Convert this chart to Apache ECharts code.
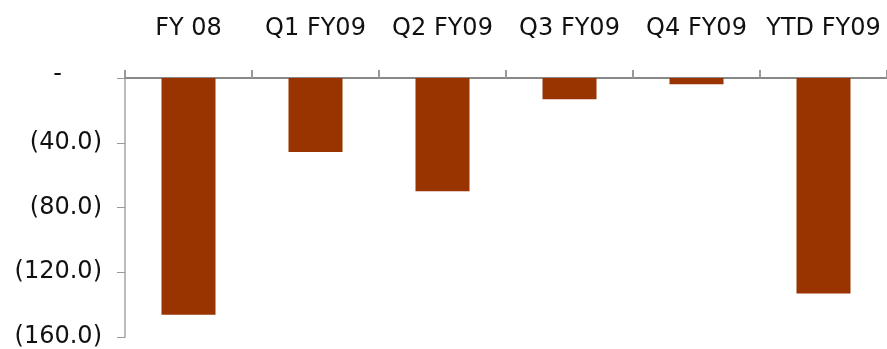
<!DOCTYPE html>
<html>
<head>
<meta charset="utf-8">
<script src="https://cdn.jsdelivr.net/npm/echarts@6/dist/echarts.min.js"></script>
<style>
  html, body { margin: 0; padding: 0; background: #fff; }
  #main { width: 887px; height: 349px; }
</style>
</head>
<body>
<div id="main"></div>
<script>
var categories = ['FY 08', 'Q1 FY09', 'Q2 FY09', 'Q3 FY09', 'Q4 FY09', 'YTD FY09'];
var values = [-146.2, -45.7, -70.0, -13.2, -3.8, -133.2];
var yTicks = [0, -40, -80, -120, -160];

var font = 'DejaVu Sans, sans-serif';
var myChart = echarts.init(document.getElementById('main'));

var option = {
  animation: false,
  grid: { left: 125, top: 78, width: 767, height: 261 },
  xAxis: {
    type: 'category',
    position: 'top',
    data: categories,
    axisLine: { show: true, lineStyle: { color: '#888', width: 2 } },
    axisTick: { show: true, inside: false, interval: 0, length: 8, lineStyle: { color: '#999', width: 2 } },
    axisLabel: { interval: 0, margin: 37, color: '#111', fontSize: 24, fontFamily: font }
  },
  yAxis: {
    type: 'value',
    min: yTicks[yTicks.length - 1],
    max: yTicks[0],
    interval: 40,
    splitLine: { show: false },
    axisLine: { show: true, onZero: false, lineStyle: { color: '#bbb', width: 2 } },
    axisTick: { show: true, length: 8, lineStyle: { color: '#999', width: 1 } },
    axisLabel: {
      margin: 23,
      color: '#111',
      fontSize: 24,
      fontFamily: font,
      formatter: function (v) {
        if (v === 0) return '{d|-}';
        return '(' + (-v).toFixed(1) + ')';
      },
      rich: {
        d: { fontSize: 24, fontFamily: font, color: '#111', padding: [0, 40, 6, 0] }
      }
    }
  },
  series: [{
    type: 'bar',
    data: values,
    barWidth: 54,
    itemStyle: { color: '#993300' }
  }]
};

myChart.setOption(option);
</script>
</body>
</html>
